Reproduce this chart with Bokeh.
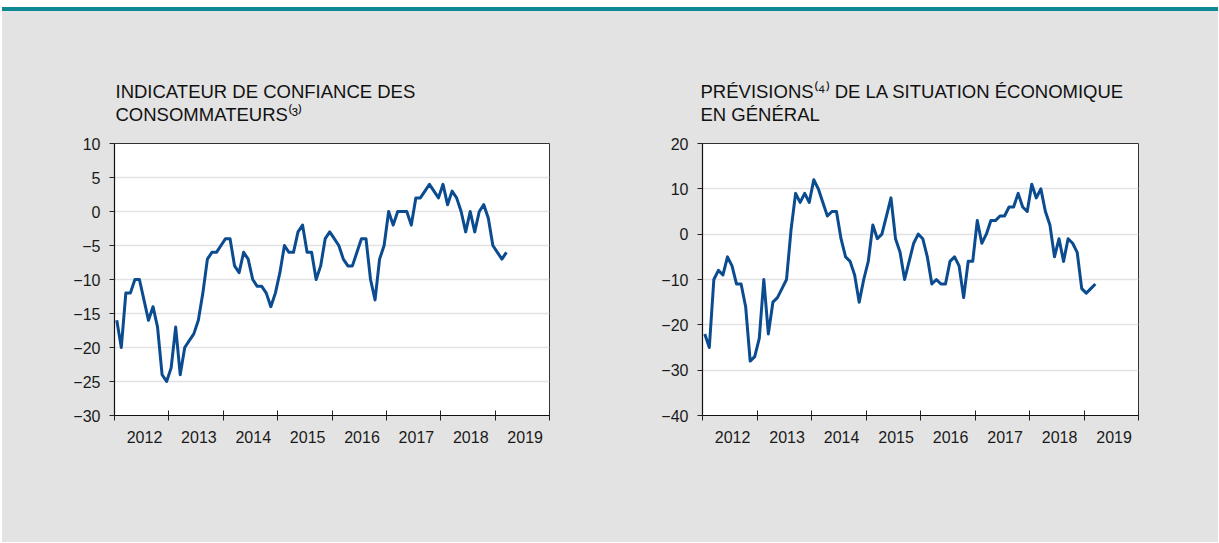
import numpy as np
from bokeh.plotting import figure
from bokeh.models import FixedTicker, Range1d, Div, Title
from bokeh.layouts import column, row
from bokeh.embed import file_html
from bokeh.resources import INLINE

# ---- data (monthly, Jan 2012 .. Mar 2019) ----
years = ["2012", "2013", "2014", "2015", "2016", "2017", "2018", "2019"]

confidence = [-16, -20, -12, -12, -10, -10, -13, -16, -14, -17, -24, -25,
              -23, -17, -24, -20, -19, -18, -16, -12, -7, -6, -6, -5,
              -4, -4, -8, -9, -6, -7, -10, -11, -11, -12, -14, -12,
              -9, -5, -6, -6, -3, -2, -6, -6, -10, -8, -4, -3,
              -4, -5, -7, -8, -8, -6, -4, -4, -10, -13, -7, -5,
              0, -2, 0, 0, 0, -2, 2, 2, 3, 4, 3, 2,
              4, 1, 3, 2, 0, -3, 0, -3, 0, 1, -1, -5,
              -6, -7, -6]

outlook = [-22, -25, -10, -8, -9, -5, -7, -11, -11, -16, -28, -27,
           -23, -10, -22, -15, -14, -12, -10, 1, 9, 7, 9, 7,
           12, 10, 7, 4, 5, 5, -1, -5, -6, -9, -15, -10,
           -6, 2, -1, 0, 4, 8, -1, -4, -10, -6, -2, 0,
           -1, -5, -11, -10, -11, -11, -6, -5, -7, -14, -6, -6,
           3, -2, 0, 3, 3, 4, 4, 6, 6, 9, 6, 5,
           11, 8, 10, 5, 2, -5, -1, -6, -1, -2, -4, -12,
           -13, -12, -11]

left_y = (-30, 10, 5)
right_y = (-40, 20, 10)

left_title = ["INDICATEUR DE CONFIANCE DES", "CONSOMMATEURS⁽³⁾"]
right_title = ["PRÉVISIONS⁽⁴⁾ DE LA SITUATION ÉCONOMIQUE", "EN GÉNÉRAL"]

GREY = "#E3E3E3"
BLUE = "#0B4B8F"
TEAL = "#0E8993"
TXT = "#1A1A1A"
FONT = "Liberation Sans"


def make_chart(values, yspec, titles, width, mb_left, mb_right, title_offset):
    ymin, ymax, ystep = yspec
    p = figure(width=width, height=531,
               x_range=Range1d(0, 96), y_range=Range1d(ymin, ymax),
               output_backend="svg", toolbar_location=None,
               min_border_left=mb_left, min_border_right=mb_right,
               min_border_top=132, min_border_bottom=127,
               background_fill_color="white", border_fill_color=GREY,
               outline_line_color="#333333", outline_line_width=1)
    x = np.arange(len(values)) + 0.5
    p.line(x, values, line_color=BLUE, line_width=3, line_join="round")

    nyears = len(years)
    label_pos = [12 * k + 6.625 for k in range(nyears)]
    p.xaxis.ticker = FixedTicker(ticks=label_pos,
                                 minor_ticks=[12 * k for k in range(nyears + 1)])
    p.xaxis.major_label_overrides = {pos: yr for pos, yr in zip(label_pos, years)}
    p.xaxis.major_tick_out = 5
    p.xaxis.major_tick_in = 0
    p.xaxis.minor_tick_in = 5
    p.xaxis.minor_tick_out = 5
    p.xaxis.minor_tick_line_color = "#222222"
    p.xaxis.major_label_standoff = 10

    p.yaxis.ticker = FixedTicker(ticks=list(range(ymin, ymax + 1, ystep)), minor_ticks=[])
    p.yaxis.major_tick_out = 5
    p.yaxis.major_tick_in = 0
    p.yaxis.major_label_standoff = 9

    for ax in (p.xaxis, p.yaxis):
        ax.axis_line_color = "#111111"
        ax.axis_line_width = 1.2
        ax.major_label_text_font = FONT
        ax.major_label_text_font_size = "16px"
        ax.major_label_text_color = TXT
    p.xaxis.major_tick_line_color = None
    p.yaxis.major_tick_line_color = "#222222"

    p.xgrid.grid_line_color = None
    p.ygrid.grid_line_color = "#E2E2E2"
    p.ygrid.grid_line_width = 1.5

    p.add_layout(Title(text="\n".join(titles), align="left", offset=title_offset,
                       text_font=FONT, text_font_size="18.5px",
                       text_font_style="normal", text_color="#111111",
                       text_line_height=1.1, standoff=36), "above")
    return p


p1 = make_chart(confidence, left_y, left_title, 592, 112, 45, 1)
p2 = make_chart(outlook, right_y, right_title, 624, 108, 80, -2)

bar = Div(text="", width=1216, height=4, margin=(7, 0, 0, 2),
          styles={"background-color": TEAL})
charts = row(p1, p2, spacing=0, margin=(0, 0, 0, 2),
             styles={"background-color": GREY})
layout = column(bar, charts, spacing=0)

open("out.html", "w").write(file_html(layout, INLINE))
